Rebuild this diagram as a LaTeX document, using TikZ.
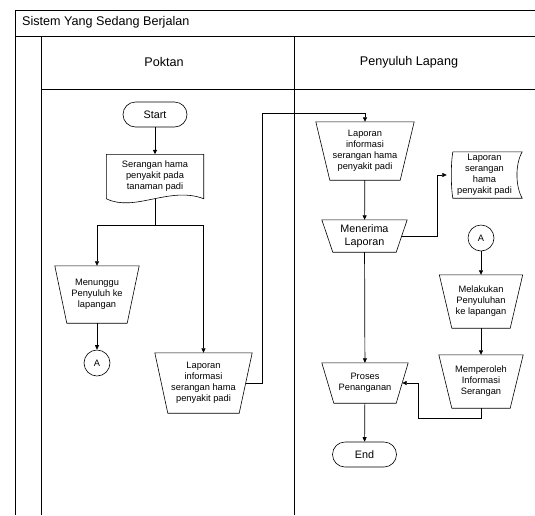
\documentclass[tikz,border=0pt]{standalone}
\usepackage{fontspec}
\setmainfont{Liberation Sans}
\usetikzlibrary{arrows.meta}

\begin{document}
\begin{tikzpicture}[x=1pt,y=-1pt,
  >={Triangle[length=4.5pt,width=4pt]},
  every node/.style={font=\fontsize{9.3}{11}\selectfont, align=center, inner sep=1pt},
  lane/.style={line width=1pt},
  flow/.style={->, line width=0.7pt},
  terminal/.style={draw, line width=0.6pt, rounded corners=12.5pt, minimum width=64pt, minimum height=25pt, font=\fontsize{10.8}{12}\selectfont},
  manual/.style={minimum width=#1},
  connector/.style={draw, line width=0.6pt, circle, minimum size=26pt, inner sep=0pt},
  docbox/.style={minimum width=97pt, minimum height=44pt},
  storebox/.style={minimum width=75pt, minimum height=46pt}]

\useasboundingbox (0,0) rectangle (535,515);

% swimlanes
\draw[lane] (15,515) -- (15,10) -- (535,10);
\draw[lane] (15,36) -- (535,36);
\draw[lane] (41,515) -- (41,36);
\draw[lane] (294,515) -- (294,36);
\draw[lane] (41,89) -- (535,89);
\node[anchor=west, font=\fontsize{12.6}{14}\selectfont] (judul) at (21,22) {Sistem Yang Sedang Berjalan};
\node[font=\fontsize{12.6}{14}\selectfont] (poktan) at (164,62) {Poktan};
\node[font=\fontsize{12.6}{14}\selectfont] (penyuluh) at (409,62) {Penyuluh Lapang};

% Poktan
\node[terminal] (start) at (155,114.5) {Start};
\node[docbox] (serangan) at (155,176.5) {Serangan hama\\penyakit pada\\tanaman padi};
\draw[line width=0.6pt] (serangan.south west) -- (serangan.north west) -- (serangan.north east) -- (serangan.south east)
  .. controls ([shift={(-34,-13)}]serangan.south east) and ([shift={(28,14)}]serangan.south west) .. (serangan.south west);
\node[manual=84pt, minimum height=57pt] (menunggu) at (97,294.5) {Menunggu\\Penyuluh ke\\lapangan};
\node[connector] (konA) at (97,363) {A};
\node[manual=97pt, minimum height=60pt] (laporanA) at (203.5,383) {Laporan\\informasi\\serangan hama\\penyakit padi};

% Penyuluh Lapang
\node[manual=98pt, minimum height=58pt] (laporanB) at (365,151) {Laporan\\informasi\\serangan hama\\penyakit padi};
\node[manual=85pt, minimum height=32pt, font=\fontsize{10.8}{12.5}\selectfont] (menerima) at (364.5,236) {Menerima\\Laporan};
\node[storebox] (arsip) at (484.5,175) {Laporan\\serangan\\hama\\penyakit padi};
\draw[line width=0.6pt] ([xshift=6pt]arsip.north west) -- (arsip.north east)
  .. controls ([shift={(-7,12)}]arsip.north east) and ([shift={(-7,-12)}]arsip.south east) .. (arsip.south east)
  -- ([xshift=6pt]arsip.south west)
  .. controls ([shift={(4,-12)}]arsip.south west) and ([shift={(4,12)}]arsip.north west) .. ([xshift=6pt]arsip.north west);
\node[connector] (konB) at (481,238) {A};
\node[manual=83pt, minimum height=53pt] (melakukan) at (481,301.5) {Melakukan\\Penyuluhan\\ke lapangan};
\node[manual=84pt, minimum height=53pt] (memperoleh) at (481,381.5) {Memperoleh\\Informasi\\Serangan};
\node[manual=86pt, minimum height=40pt] (proses) at (365,383) {Proses\\Penanganan};
\node[terminal] (selesai) at (364.5,454.5) {End};

% manual operation outlines
\foreach \n/\d in {menunggu/12, laporanA/13, laporanB/14, menerima/11, melakukan/12.5, memperoleh/13, proses/12}
  \draw[line width=0.6pt] (\n.north west) -- (\n.north east) -- ([xshift=-\d pt]\n.south east) -- ([xshift=\d pt]\n.south west) -- cycle;

\coordinate (belokA) at (262,113);
\coordinate (belokB) at (437,175);
\coordinate (belokC) at (418,418);

\draw[flow] (start) -- (serangan);
\draw[flow] (serangan.south) -- ++(0,27) -| (menunggu.north);
\draw[flow] (serangan.south) -- ++(0,27) -| (laporanA.north);
\draw[flow] (menunggu) -- (konA);
\draw[flow] ([xshift=-6.5pt]laporanA.east) -| (belokA) -| (laporanB.north);
\draw[flow] (laporanB) -- (menerima);
\draw[flow] ([xshift=-5.5pt]menerima.east) -| (belokB) -- (arsip.west);
\draw[flow] (menerima) -- (proses);
\draw[flow] (konB) -- (melakukan);
\draw[flow] (melakukan) -- (memperoleh);
\draw[flow] (memperoleh.south) |- (belokC) |- ([xshift=-6pt]proses.east);
\draw[flow] (proses) -- (selesai);

\end{tikzpicture}
\end{document}
